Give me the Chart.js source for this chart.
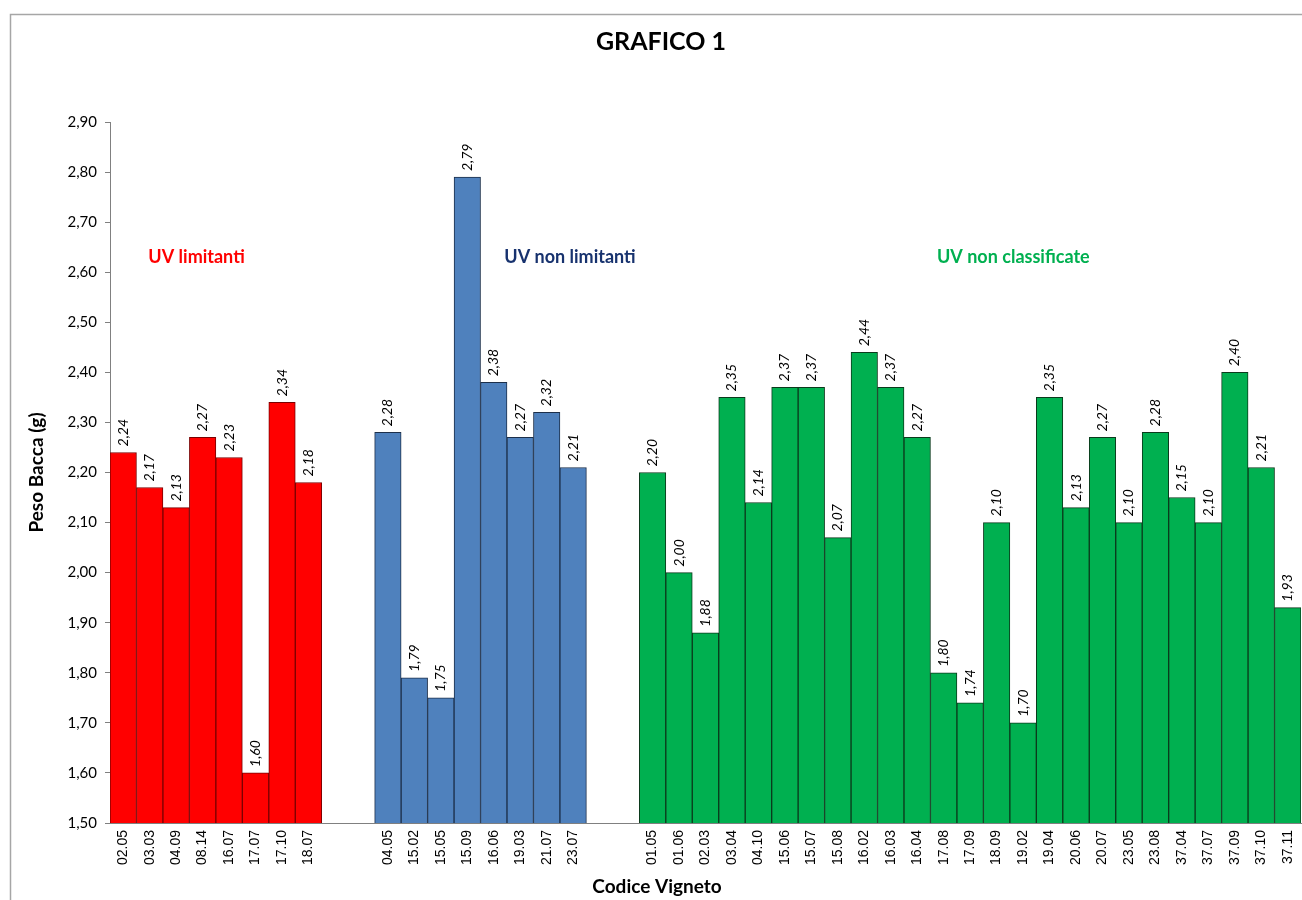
<!DOCTYPE html>
<html>
<head>
<meta charset="utf-8">
<title>GRAFICO 1</title>
<script src="https://cdn.jsdelivr.net/npm/chart.js@4.4.1/dist/chart.umd.min.js"></script>
<style>
  html, body { margin: 0; padding: 0; background: #ffffff; }
  #wrap { position: relative; width: 1302px; height: 900px; }
</style>
</head>
<body>
<div id="wrap"><canvas id="chart" width="1302" height="900"></canvas></div>
<script>
// Vineyard codes per group
const codiciLimitanti = ['02.05', '03.03', '04.09', '08.14', '16.07', '17.07', '17.10', '18.07'];
const codiciNonLimitanti = ['04.05', '15.02', '15.05', '15.09', '16.06', '19.03', '21.07', '23.07'];
const codiciNonClassificate = ['01.05', '01.06', '02.03', '03.04', '04.10', '15.06', '15.07', '15.08',
  '16.02', '16.03', '16.04', '17.08', '17.09', '18.09', '19.02', '19.04', '20.06', '20.07',
  '23.05', '23.08', '37.04', '37.07', '37.09', '37.10', '37.11'];

// Berry weight (g) per vineyard
const pesoLimitanti = [2.24, 2.17, 2.13, 2.27, 2.23, 1.60, 2.34, 2.18];
const pesoNonLimitanti = [2.28, 1.79, 1.75, 2.79, 2.38, 2.27, 2.32, 2.21];
const pesoNonClassificate = [2.20, 2.00, 1.88, 2.35, 2.14, 2.37, 2.37, 2.07, 2.44, 2.37, 2.27,
  1.80, 1.74, 2.10, 1.70, 2.35, 2.13, 2.27, 2.10, 2.28, 2.15, 2.10, 2.40, 2.21, 1.93];

// Y axis range
const yMin = 1.50;
const yMax = 2.90;
const yStep = 0.10;

// Empty slots separating the groups
const separatore = ['', ''];

const labels = [...codiciLimitanti, ...separatore, ...codiciNonLimitanti, ...separatore, ...codiciNonClassificate];
const n = labels.length;

function serie(offset, values) {
  const arr = new Array(n).fill(null);
  values.forEach((v, i) => { arr[offset + i] = v; });
  return arr;
}
const off1 = 0;
const off2 = codiciLimitanti.length + separatore.length;
const off3 = off2 + codiciNonLimitanti.length + separatore.length;

const fmt = v => v.toFixed(2).replace('.', ',');

const LATO = "Lato, 'Open Sans', sans-serif";

// Frame, title, axis titles, group captions and value labels
const decorPlugin = {
  id: 'decor',
  afterDraw(chart) {
    const ctx = chart.ctx;
    const xs = chart.scales.x, ys = chart.scales.y;
    const area = chart.chartArea;
    ctx.save();

    // outer frame (left and top edges)
    ctx.strokeStyle = '#a6a6a6';
    ctx.lineWidth = 1.5;
    ctx.beginPath();
    ctx.moveTo(10.5, 900);
    ctx.lineTo(10.5, 14.5);
    ctx.lineTo(1302, 14.5);
    ctx.stroke();

    // title
    ctx.fillStyle = '#000000';
    ctx.font = 'bold 25px ' + LATO;
    ctx.textAlign = 'center';
    ctx.textBaseline = 'middle';
    ctx.fillText('GRAFICO 1', 661, 42);

    // x axis title
    ctx.font = 'bold 19px ' + LATO;
    ctx.fillText('Codice Vigneto', 657, 887);

    // y axis title
    ctx.save();
    ctx.translate(37, (area.top + area.bottom) / 2);
    ctx.rotate(-Math.PI / 2);
    ctx.fillText('Peso Bacca (g)', 0, 0);
    ctx.restore();

    // group captions
    ctx.font = 'bold 18px ' + LATO;
    const captions = [
      { text: 'UV limitanti', idx: 2.77, color: '#ff0000' },
      { text: 'UV non limitanti', idx: 16.88, color: '#17326e' },
      { text: 'UV non classificate', idx: 33.63, color: '#00b050' }
    ];
    captions.forEach(c => {
      ctx.fillStyle = c.color;
      ctx.fillText(c.text, xs.getPixelForValue(c.idx), ys.getPixelForValue(2.63));
    });

    // value labels above each bar
    ctx.fillStyle = '#000000';
    ctx.font = 'italic 14px ' + LATO;
    ctx.textAlign = 'left';
    ctx.textBaseline = 'middle';
    chart.data.datasets.forEach((ds, di) => {
      const meta = chart.getDatasetMeta(di);
      meta.data.forEach((bar, i) => {
        const v = ds.data[i];
        if (v === null || v === undefined) return;
        ctx.save();
        ctx.translate(bar.x, bar.y - 6);
        ctx.rotate(-Math.PI / 2);
        ctx.fillText(fmt(v), 0, 0);
        ctx.restore();
      });
    });

    ctx.restore();
  }
};

const barCommon = {
  borderWidth: 1,
  borderSkipped: false,
  categoryPercentage: 1.0,
  barPercentage: 1.0,
  grouped: false
};

new Chart(document.getElementById('chart'), {
  type: 'bar',
  data: {
    labels: labels,
    datasets: [
      Object.assign({ label: 'UV limitanti', data: serie(off1, pesoLimitanti),
        backgroundColor: '#ff0000', borderColor: '#7a0000' }, barCommon),
      Object.assign({ label: 'UV non limitanti', data: serie(off2, pesoNonLimitanti),
        backgroundColor: '#4f81bd', borderColor: '#1c2f4a' }, barCommon),
      Object.assign({ label: 'UV non classificate', data: serie(off3, pesoNonClassificate),
        backgroundColor: '#00b050', borderColor: '#0b3a1c' }, barCommon)
    ]
  },
  options: {
    responsive: false,
    animation: false,
    layout: { padding: { top: 122, right: 1, left: 0, bottom: 0 } },
    plugins: {
      legend: { display: false },
      title: { display: false },
      tooltip: { enabled: false }
    },
    scales: {
      x: {
        offset: true,
        grid: { display: true, drawOnChartArea: false, drawTicks: false, color: '#808080' },
        border: { display: true, color: '#808080', width: 1 },
        ticks: {
          autoSkip: false,
          maxRotation: 90,
          minRotation: 90,
          padding: 7,
          color: '#000000',
          font: { family: "'Liberation Sans', Arial, sans-serif", size: 14 }
        },
        afterFit(scale) {
          scale.height = 77;
          scale.paddingLeft = 0;
          scale.paddingRight = 0;
        }
      },
      y: {
        min: yMin,
        max: yMax,
        grid: { display: true, drawOnChartArea: false, drawTicks: true, tickLength: 5, color: '#808080' },
        border: { display: true, color: '#808080', width: 1 },
        ticks: {
          stepSize: yStep,
          padding: 8,
          color: '#000000',
          font: { family: LATO, size: 15 },
          callback: v => fmt(v)
        },
        afterFit(scale) { scale.width = 110; }
      }
    }
  },
  plugins: [decorPlugin]
});
</script>
</body>
</html>
